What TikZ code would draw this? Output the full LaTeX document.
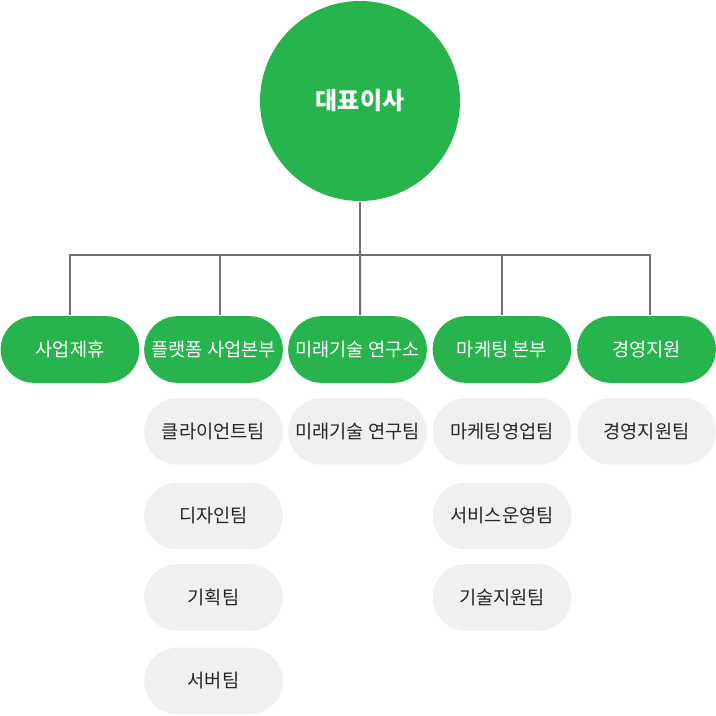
\documentclass[tikz,border=0pt]{standalone}
\usepackage{fontspec}
\setmainfont{Noto Sans CJK KR}
\usetikzlibrary{positioning}
\definecolor{orggreen}{RGB}{39,180,76}
\definecolor{pillgray}{RGB}{240,240,240}
\definecolor{linegray}{RGB}{112,112,112}

\begin{document}
\begin{tikzpicture}[x=0.75pt, y=-0.75pt, line width=1.5pt,
  ceo node/.style={circle,fill=orggreen,text=white,minimum size=150pt,inner sep=0pt,font=\fontsize{18}{21}\selectfont\bfseries},
  dept node/.style={rectangle,rounded corners=25pt,fill=orggreen,text=white,minimum width=104pt,minimum height=50pt,inner sep=0pt,font=\fontsize{14}{16}\selectfont},
  team node/.style={rectangle,rounded corners=25pt,fill=pillgray,text=black!85,minimum width=104pt,minimum height=50pt,inner sep=0pt,font=\fontsize{14}{16}\selectfont}]
\useasboundingbox (0,0) rectangle (716,716);
\node[ceo node] (ceo) at (360,101) {대표이사};
\begin{scope}
\node[dept node] (d1) at (70,349.5) {사업제휴};
\node[dept node] (d2) at (213.5,349.5) {플랫폼 사업본부};
\node[dept node] (d3) at (357.5,349.5) {미래기술 연구소};
\node[dept node] (d4) at (502,349.5) {마케팅 본부};
\node[dept node] (d5) at (646.5,349.5) {경영지원};
\end{scope}
\begin{scope}
\node[team node] (t21) at (213.5,431.5) {클라이언트팀};
\node[team node] (t22) at (213.5,516) {디자인팀};
\node[team node] (t23) at (213.5,597.5) {기획팀};
\node[team node] (t24) at (213.5,681) {서버팀};
\node[team node] (t31) at (357.5,431.5) {미래기술 연구팀};
\node[team node] (t41) at (502,431.5) {마케팅영업팀};
\node[team node] (t42) at (502,516) {서비스운영팀};
\node[team node] (t43) at (502,597.5) {기술지원팀};
\node[team node] (t51) at (646.5,431.5) {경영지원팀};
\end{scope}
\coordinate (hub) at (360,255);
\begin{scope}[every path/.style={draw=linegray}]
\draw (ceo.south) -- (hub);
\draw (d1.north) |- (hub);
\draw ([xshift=4.9pt]d2.north) |- (hub);
\draw ([xshift=1.9pt]d3.north) -- (hub);
\draw (d4.north) |- (hub);
\draw ([xshift=2.6pt]d5.north) |- (hub);
\end{scope}
\end{tikzpicture}
\end{document}
